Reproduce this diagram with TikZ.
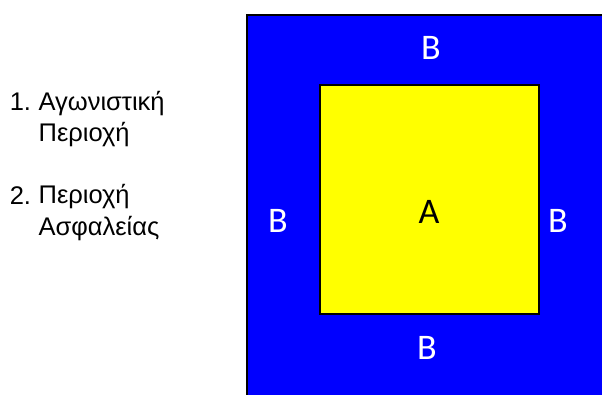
\documentclass[tikz,border=0pt]{standalone}
\usepackage{fontspec}
\setmainfont{Liberation Sans}
\newfontfamily\zonefont{Carlito}
\definecolor{safetyblue}{RGB}{0,0,255}
\definecolor{fieldyellow}{RGB}{255,255,0}
\begin{document}
\begin{tikzpicture}[x=1pt,y=-1pt,
  zone/.style={draw=black,line width=2pt},
  zonelbl/.style={font=\zonefont\fontsize{36}{36}\selectfont,inner sep=0pt},
  itemnum/.style={font=\fontsize{25.5}{31.5}\selectfont,anchor=base west,inner sep=0pt},
  itemtxt/.style={itemnum,align=left}]
\clip (0,0) rectangle (602,394);
\fill[white] (0,0) rectangle (602,394);
% safety zone and playing field
\draw[zone,fill=safetyblue] (247,14.5) rectangle (640,420);
\draw[zone,fill=fieldyellow] (319.5,84.5) rectangle (539,314);
\node[zonelbl,text=black] (fieldA) at (429,211.5) {A};
\node[zonelbl,text=white] (bTop) at (431,48) {B};
\node[zonelbl,text=white] (bBottom) at (427,348) {B};
\node[zonelbl,text=white] (bLeft) at (278,220.5) {B};
\node[zonelbl,text=white] (bRight) at (558,220.5) {B};
% legend (node baseline sits on the last line)
\node[itemnum] (num1) at (9.6,110) {1.};
\node[itemtxt] (txt1) at (38.4,141.7) {Αγωνιστική\\Περιοχή};
\node[itemnum] (num2) at (9.6,204) {2.};
\node[itemtxt] (txt2) at (38.4,235) {Περιοχή\\Ασφαλείας};
\end{tikzpicture}
\end{document}
